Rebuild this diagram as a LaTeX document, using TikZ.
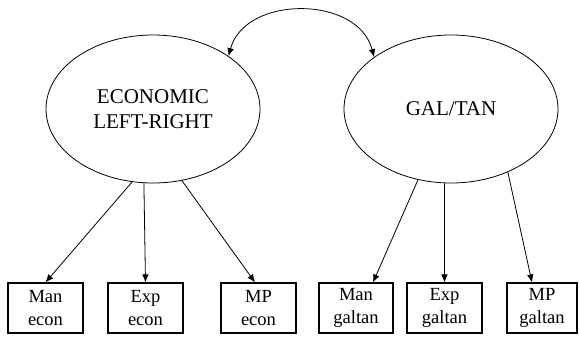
\documentclass[tikz,border=0pt]{standalone}
\usepackage{fontspec}
\setmainfont{Liberation Serif}
\usetikzlibrary{shapes.geometric,arrows.meta}
\begin{document}
\begin{tikzpicture}[x=0.75pt,y=-0.75pt,
  latent/.style={draw,line width=0.6pt,ellipse,inner sep=0pt,minimum width=160.5pt,minimum height=111pt,align=center,font=\fontsize{15.75pt}{18.75pt}\selectfont},
  obs/.style={draw,line width=0.9pt,rectangle,inner sep=0pt,minimum height=37.5pt,align=center,font=\fontsize{13.9pt}{17.25pt}\selectfont},
  arr/.style={line width=0.6pt,-{Latex[length=6pt,width=5pt]}},
  darr/.style={line width=0.6pt,{Latex[length=6pt,width=5pt]}-{Latex[length=6pt,width=5pt]}}]
\useasboundingbox (0,0) rectangle (579,336);
\node[latent] (L) at (153,109) {ECONOMIC\\LEFT-RIGHT};
\node[latent] (R) at (451,109) {GAL/TAN};
\node[obs,minimum width=56.25pt] (b1) at (45.5,308) {Man\\econ};
\node[obs,minimum width=56.25pt] (b2) at (145.5,308) {Exp\\econ};
\node[obs,minimum width=56.25pt] (b3) at (258.5,308) {MP\\econ};
\node[obs,minimum width=55.5pt] (b4) at (356,308) {Man\\galtan};
\node[obs,minimum width=56.25pt] (b5) at (444.5,308) {Exp\\galtan};
\node[obs,minimum width=52.5pt] (b6) at (542,308) {MP\\galtan};
\draw[arr] (L.254.6) -- (b1.north);
\draw[arr] (L.263.8) -- (b2.north);
\draw[arr] (L.292.9) -- ([xshift=-2.6pt]b3.north);
\draw[arr] (R.245.6) -- ([xshift=12.75pt]b4.north);
\draw[arr] (R.265.4) -- (b5.north);
\draw[arr] (R.312.4) -- ([xshift=-7.5pt]b6.north);
\draw[darr] (L.35) .. controls (245,-5) and (358,-5) .. (R.146);
\end{tikzpicture}
\end{document}
